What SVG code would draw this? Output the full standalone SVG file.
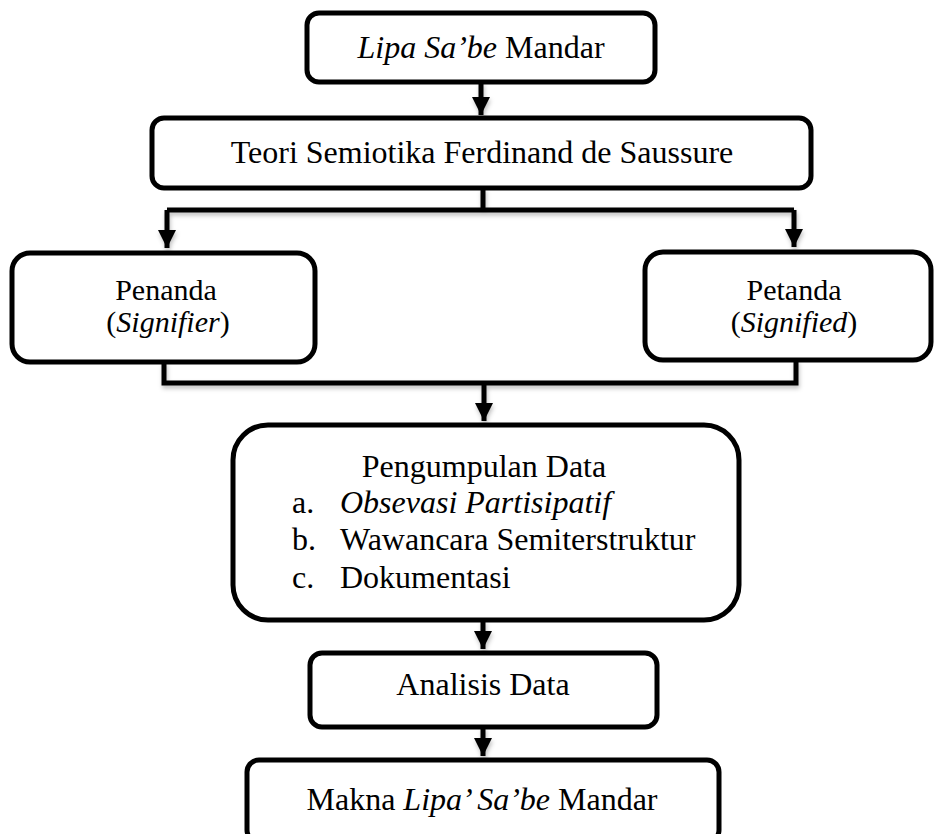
<svg xmlns="http://www.w3.org/2000/svg" width="936" height="834" viewBox="0 0 936 834">
<style>
.box{fill:#fff;stroke:#000;stroke-width:5}
.con{fill:none;stroke:#000;stroke-width:5;stroke-linejoin:miter}
.t{font-family:"Liberation Serif";font-size:32px;fill:#000}
.t2{font-family:"Liberation Serif";font-size:30px;fill:#000}
.c{text-anchor:middle}
.i{font-family:"Liberation Serif";font-style:italic}
</style>
<defs>
<marker id="arr" viewBox="0 0 10 10" refX="10" refY="5" markerWidth="3.6" markerHeight="3.6" orient="auto" markerUnits="strokeWidth">
<path d="M0,0 L10,5 L0,10 z" fill="#000"/>
</marker>
<filter id="sh" x="-5%" y="-5%" width="110%" height="130%">
<feDropShadow dx="1" dy="3" stdDeviation="2" flood-color="#000" flood-opacity="0.25"/>
</filter>
</defs>
<g id="connectors" filter="url(#sh)">
<path class="con" d="M481,82 V115" marker-end="url(#arr)"/>
<path class="con" d="M483,188 V210"/>
<path class="con" d="M167,210 H794"/>
<path class="con" d="M167,210 V248" marker-end="url(#arr)"/>
<path class="con" d="M794,210 V247" marker-end="url(#arr)"/>
<path class="con" d="M164,362 V383 H796 V360"/>
<path class="con" d="M484,383 V421" marker-end="url(#arr)"/>
<path class="con" d="M483,620 V649" marker-end="url(#arr)"/>
<path class="con" d="M483,727 V756" marker-end="url(#arr)"/>
</g>
<g id="n1">
<rect class="box" x="307" y="13" width="348" height="69" rx="12"/>
<text class="t c" x="481" y="58"><tspan class="i">Lipa Sa’be</tspan> Mandar</text>
</g>
<g id="n2">
<rect class="box" x="152" y="118" width="659" height="70" rx="12"/>
<text class="t c" x="482" y="163">Teori Semiotika Ferdinand de Saussure</text>
</g>
<g id="n3">
<rect class="box" x="12" y="253" width="303" height="109" rx="18"/>
<text class="t2 c" x="166" y="300">Penanda</text>
<text class="t2 c" x="168" y="332">(<tspan class="i">Signifier</tspan>)</text>
</g>
<g id="n4">
<rect class="box" x="645" y="252" width="286" height="108" rx="18"/>
<text class="t2 c" x="794" y="300">Petanda</text>
<text class="t2 c" x="794" y="332">(<tspan class="i">Signified</tspan>)</text>
</g>
<g id="n5">
<rect class="box" x="233" y="425" width="506" height="195" rx="35"/>
<text class="t c" x="484" y="477">Pengumpulan Data</text>
<text class="t" x="292" y="513">a.</text>
<text class="t i" x="340" y="513">Obsevasi Partisipatif</text>
<text class="t" x="292" y="550">b.</text>
<text class="t" x="340" y="550">Wawancara Semiterstruktur</text>
<text class="t" x="292" y="588">c.</text>
<text class="t" x="340" y="588">Dokumentasi</text>
</g>
<g id="n6">
<rect class="box" x="310" y="653" width="347" height="74" rx="12"/>
<text class="t c" x="483" y="695">Analisis Data</text>
</g>
<g id="n7">
<rect class="box" x="247" y="760" width="472" height="82" rx="12"/>
<text class="t c" x="482" y="810">Makna <tspan class="i">Lipa’ Sa’be</tspan> Mandar</text>
</g>
</svg>
